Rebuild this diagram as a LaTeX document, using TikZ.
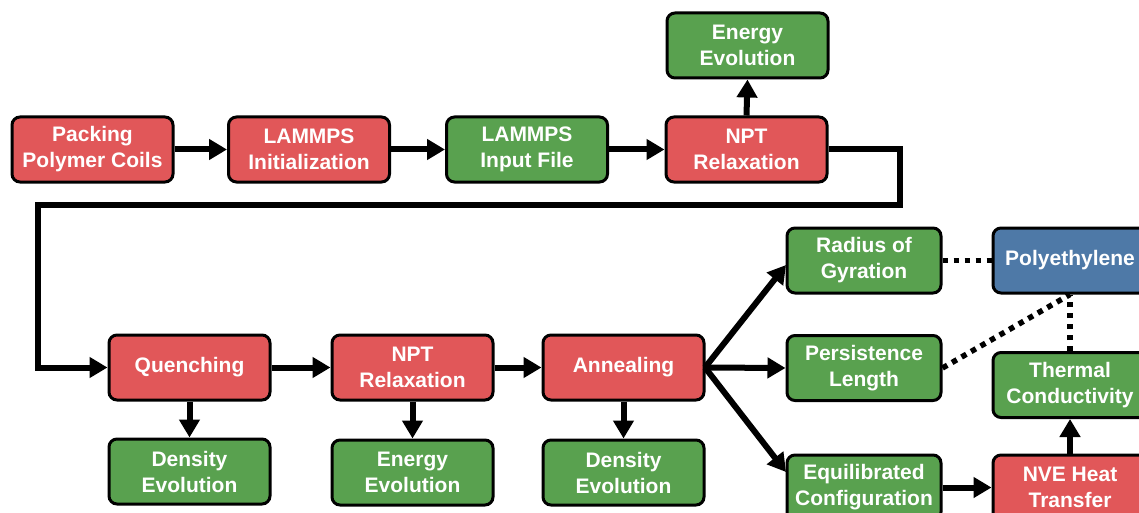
\documentclass[tikz,border=0pt]{standalone}
\usepackage{fontspec}
\setmainfont{Liberation Sans}
\usetikzlibrary{arrows.meta}
\definecolor{cred}{HTML}{E15759}
\definecolor{cgreen}{HTML}{59A14F}
\definecolor{cblue}{HTML}{4E79A7}
\tikzset{
  box/.style={draw=black, line width=3pt, rounded corners=8pt, minimum width=161pt, minimum height=65pt, inner sep=0pt, align=center, text=white, font=\bfseries\fontsize{21}{26}\selectfont},
  rbox/.style={box, fill=cred},
  gbox/.style={box, fill=cgreen},
  bbox/.style={box, fill=cblue},
  nbox/.style={minimum width=154pt},
  arr/.style={line width=6pt, -{Triangle[length=18pt,width=20pt]}},
  dots/.style={line width=5.5pt, dash pattern=on 5.5pt off 5.5pt},
}
\begin{document}
\begin{tikzpicture}[x=1pt,y=-1pt]
\useasboundingbox (0,0) rectangle (1139,513);
\clip (0,0) rectangle (1139,513);
\fill[white] (0,0) rectangle (1139,513);
% top row
\node[rbox] (pack) at (92.5,149.5) {Packing\\Polymer Coils};
\node[rbox] (init) at (309,149.5) {LAMMPS\\Initialization};
\node[gbox] (input) at (527,149.5) {LAMMPS\\Input File};
\node[rbox] (npt1) at (746.5,149.5) {NPT\\Relaxation};
\node[gbox] (en1) at (747.5,45.5) {Energy\\Evolution};
% middle row
\node[rbox] (quench) at (189.5,367.5) {Quenching};
\node[rbox] (npt2) at (412.5,367.5) {NPT\\Relaxation};
\node[rbox] (anneal) at (623.5,367.5) {Annealing};
% bottom row
\node[gbox] (dens1) at (189.5,471.5) {Density\\Evolution};
\node[gbox] (en2) at (412.5,472.5) {Energy\\Evolution};
\node[gbox] (dens2) at (623.5,472.5) {Density\\Evolution};
% right side
\node[gbox,nbox] (rg) at (864,260.5) {Radius of\\Gyration};
\node[gbox,nbox] (pl) at (864,368) {Persistence\\Length};
\node[gbox,nbox] (eq) at (864,487.5) {Equilibrated\\Configuration};
\node[bbox,nbox] (pe) at (1070,260.5) {Polyethylene};
\node[gbox,nbox] (tc) at (1070,385) {Thermal\\Conductivity};
\node[rbox,nbox] (nve) at (1070,487.5) {NVE Heat\\Transfer};
% connectors
\draw[arr] (pack) -- (init);
\draw[arr] (init) -- (input);
\draw[arr] (input) -- (npt1);
\draw[arr] (npt1.north) -- (en1.south);
\coordinate (c1) at (900,149.5);
\coordinate (c2) at (900,205);
\coordinate (c3) at (38,205);
\coordinate (c4) at (38,367.5);
\draw[arr] (npt1.east) -- (c1) -- (c2) -- (c3) -- (c4) -- (quench.west);
\draw[arr] (quench) -- (npt2);
\draw[arr] (npt2) -- (anneal);
\draw[arr] (quench.south) -- (dens1.north);
\draw[arr] (npt2.south) -- (en2.north);
\draw[arr] (anneal.south) -- (dens2.north);
\coordinate (a0) at (705,367.5);
\coordinate (rgin) at (786,265);
\coordinate (eqin) at (786,472);
\draw[arr] (a0) -- (rgin);
\draw[arr] (a0) -- (pl.west);
\draw[arr] (a0) -- (eqin);
\draw[arr] (eq.east) -- (nve.west);
\draw[arr] (nve.north) -- (tc.south);
\draw[dots] (rg.east) -- (pe.west);
\draw[dots] (pl.east) -- (pe.south);
\draw[dots] (tc.north) -- (pe.south);
\end{tikzpicture}
\end{document}
